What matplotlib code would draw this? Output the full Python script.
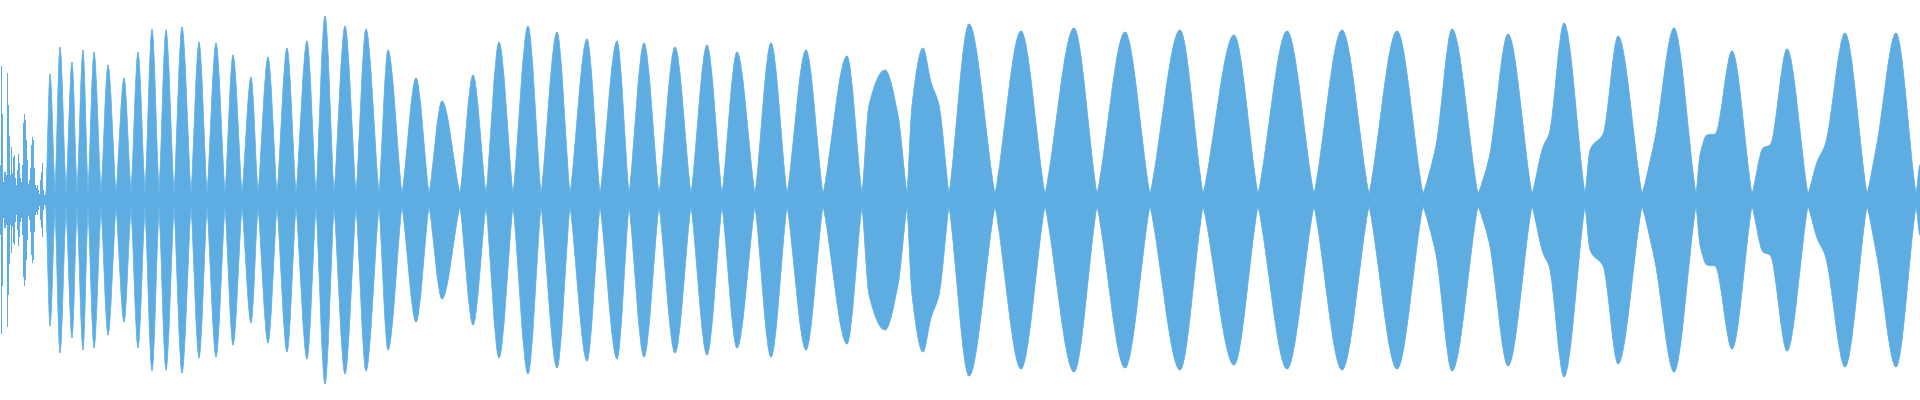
import numpy as np
import matplotlib
matplotlib.use("Agg")
import matplotlib.pyplot as plt
from matplotlib.path import Path
from matplotlib.patches import PathPatch

# noisy start of the waveform, one column per pixel (x, half height)
spike_x = list(range(46))
spike_amp = [35, 134, 86, 18, 28, 28, 25, 127, 95, 64,
             25, 53, 27, 43, 45, 22, 15, 30, 46, 37,
             22, 18, 35, 77, 86, 80, 60, 40, 16, 20,
             32, 55, 63, 60, 32, 15, 12, 15, 10, 6,
             20, 28, 37, 10, 5, 6]

# zero crossings of the envelope (lobe edges)
nodes = [46, 55, 66, 77, 88, 101, 116, 131, 145, 159,
         174, 191, 207, 225, 242, 258, 277, 296, 316, 334,
         356, 379, 402, 429, 460, 486, 513, 541, 570, 600,
         629, 659, 691, 722, 755, 787, 823, 862, 907, 949,
         995, 1045, 1097, 1150, 1203, 1258, 1314, 1369, 1423, 1478,
         1532, 1585, 1642, 1696, 1752, 1808, 1867, 1916]
node_amp = 6

# lobe peaks
peak_x = [50, 60, 72, 83, 94, 108, 124, 138, 152, 166,
          182, 199, 216, 233, 251, 268, 287, 307, 325, 345,
          366, 388, 416, 442, 473, 499, 528, 557, 587, 617,
          644, 675, 707, 737, 771, 806, 847, 885, 923, 969,
          1021, 1074, 1125, 1180, 1234, 1287, 1342, 1397, 1452, 1508,
          1564, 1618, 1674, 1732, 1787, 1845, 1896]
peak_amp = [126, 153, 138, 150, 148, 135, 122, 148, 171, 170,
            173, 158, 157, 145, 123, 143, 152, 159, 184, 174,
            171, 150, 122, 99, 125, 158, 174, 168, 161, 159,
            157, 153, 155, 148, 157, 150, 144, 130, 152, 176,
            169, 172, 168, 170, 165, 169, 170, 169, 171, 166,
            177, 164, 172, 149, 151, 167, 167]

# kinks / plateaus on the sides of some lobes
shoulder_x = [869, 898, 912, 931, 939, 1436, 1489, 1543, 1549, 1590,
              1603, 1655, 1700, 1707, 1715, 1763, 1770, 1817, 1825, 1877,
              1920]
shoulder_amp = [95, 85, 95, 118, 95, 55, 42, 53, 66, 50,
                66, 62, 45, 65, 66, 52, 55, 38, 55, 57,
                35]

color = "#5DADE2"
node_steep = 0.8   # how sharp the waist is at a zero crossing

fig = plt.figure(figsize=(19.2, 4), dpi=100)
ax = fig.add_axes([0, 0, 1, 1])

sa = np.array(spike_amp)
ax.bar(spike_x, 2 * sa, bottom=-sa, width=1, align="edge", color=color, linewidth=0)

# envelope anchors, sorted by x
xs = np.array(nodes + peak_x + shoulder_x, dtype=float)
ys = np.array([node_amp] * len(nodes) + peak_amp + shoulder_amp, dtype=float)
is_node = np.array([True] * len(nodes) + [False] * (len(peak_x) + len(shoulder_x)))
order = np.argsort(xs)
xs, ys, is_node = xs[order], ys[order], is_node[order]

h = np.diff(xs)
d = np.diff(ys) / h
n = len(xs)
m_in = np.zeros(n)   # slope arriving at anchor
m_out = np.zeros(n)  # slope leaving anchor
for k in range(n):
    if is_node[k]:
        if k > 0:
            m_in[k] = node_steep * d[k - 1]
        if k < n - 1:
            m_out[k] = node_steep * d[k]
    elif 0 < k < n - 1 and d[k - 1] * d[k] > 0:
        w1 = 2 * h[k] + h[k - 1]
        w2 = h[k] + 2 * h[k - 1]
        m_in[k] = m_out[k] = (w1 + w2) / (w1 / d[k - 1] + w2 / d[k])

verts = [(xs[0], ys[0])]
codes = [Path.MOVETO]
for k in range(n - 1):
    c = h[k] / 3
    verts += [(xs[k] + c, ys[k] + m_out[k] * c),
              (xs[k + 1] - c, ys[k + 1] - m_in[k + 1] * c),
              (xs[k + 1], ys[k + 1])]
    codes += [Path.CURVE4] * 3
verts.append((xs[-1], -ys[-1]))
codes.append(Path.LINETO)
for k in range(n - 2, -1, -1):
    c = h[k] / 3
    verts += [(xs[k + 1] - c, -(ys[k + 1] - m_in[k + 1] * c)),
              (xs[k] + c, -(ys[k] + m_out[k] * c)),
              (xs[k], -ys[k])]
    codes += [Path.CURVE4] * 3
verts.append((xs[0], ys[0]))
codes.append(Path.CLOSEPOLY)

ax.add_patch(PathPatch(Path(verts, codes), facecolor=color, edgecolor=color, linewidth=0.5))

ax.set_xlim(0, 1920)
ax.set_ylim(-200, 200)
ax.axis("off")

plt.savefig("out.png", dpi=100, facecolor="white")
